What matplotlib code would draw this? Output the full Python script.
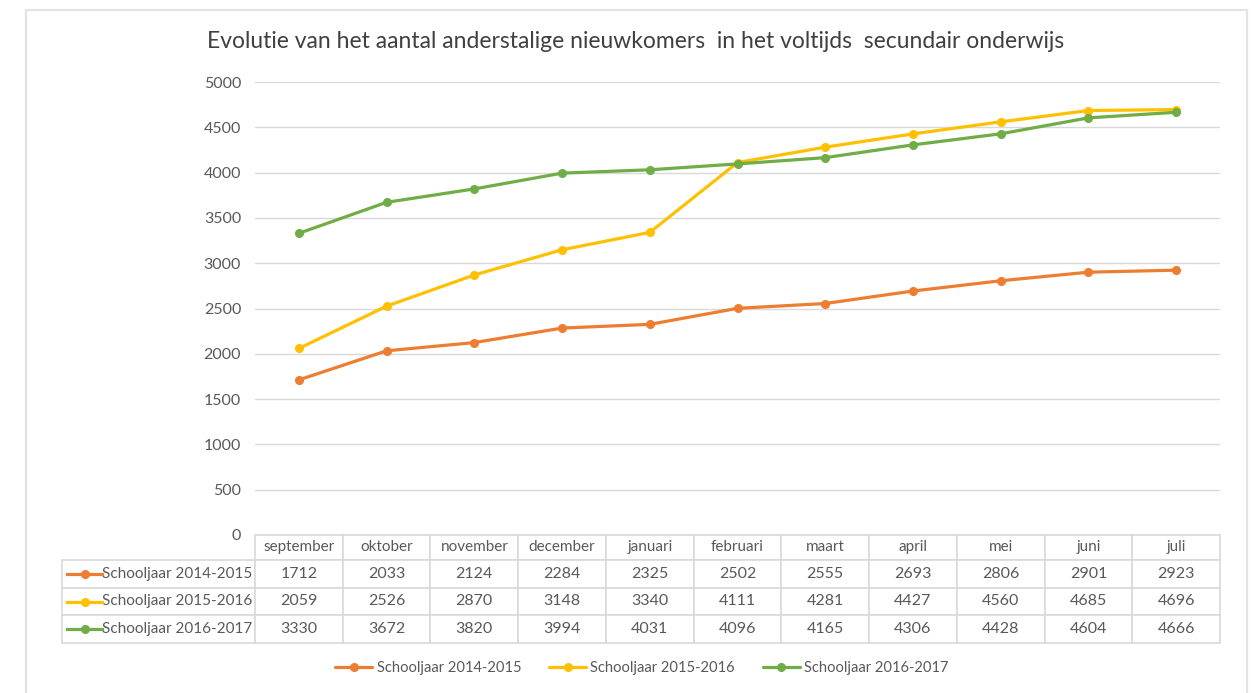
import matplotlib
matplotlib.use("Agg")
import matplotlib.pyplot as plt
from matplotlib.table import Table
from matplotlib.lines import Line2D
from matplotlib.patches import Rectangle

maanden = ["september", "oktober", "november", "december", "januari", "februari",
           "maart", "april", "mei", "juni", "juli"]
reeksen = ["Schooljaar 2014-2015", "Schooljaar 2015-2016", "Schooljaar 2016-2017"]
sj_2014_2015 = [1712, 2033, 2124, 2284, 2325, 2502, 2555, 2693, 2806, 2901, 2923]
sj_2015_2016 = [2059, 2526, 2870, 3148, 3340, 4111, 4281, 4427, 4560, 4685, 4696]
sj_2016_2017 = [3330, 3672, 3820, 3994, 4031, 4096, 4165, 4306, 4428, 4604, 4666]
yticks = [0, 500, 1000, 1500, 2000, 2500, 3000, 3500, 4000, 4500, 5000]
kleuren = ["#ED7D31", "#FFC000", "#70AD47"]

plt.rcParams['font.family'] = ['Lato', 'DejaVu Sans']
grid_kleur = "#D9D9D9"
tekst_kleur = "#595959"

W, H = 1252, 693
fig = plt.figure(figsize=(W / 100, H / 100), dpi=100)

# outer chart frame
fig.patches.append(Rectangle((26 / W, -0.01), (1247 - 26) / W, (H - 10) / H + 0.01,
                             transform=fig.transFigure, fill=False,
                             edgecolor="#E3E3E3", linewidth=1.5))

ax = fig.add_axes([255 / W, (H - 535) / H, (1220 - 255) / W, (535 - 82) / H])

x = list(range(len(maanden)))
for naam, vals, kl in zip(reeksen, [sj_2014_2015, sj_2015_2016, sj_2016_2017], kleuren):
    ax.plot(x, vals, color=kl, linewidth=2.3, marker="o", markersize=5.5,
            label=naam, solid_capstyle="round")

ax.set_xlim(-0.5, len(maanden) - 0.5)
ax.set_ylim(0, 5000)
ax.set_yticks(yticks)
ax.set_xticks([])
ax.grid(axis="y", color=grid_kleur, linewidth=1)
ax.set_axisbelow(True)
for s in ax.spines.values():
    s.set_visible(False)
ax.tick_params(axis="y", length=0, pad=10, labelsize=11.5, labelcolor=tekst_kleur)

fig.suptitle("Evolutie van het aantal anderstalige nieuwkomers  in het voltijds  secundair onderwijs",
             x=636 / W, y=1 - 42 / H, va="center", fontsize=16.5, color="#404040")

# data table under the axis
tab_h = (643 - 535) / (535 - 82)
lab_w = (255 - 62) / (1220 - 255)
tabel = Table(ax, bbox=[0, -tab_h, 1, tab_h])
col_w = 1 / len(maanden)
for j, m in enumerate(maanden):
    c = tabel.add_cell(0, j, width=col_w, height=0.9, text=m, loc="center")
    c.get_text().set_color(tekst_kleur)
    c.get_text().set_fontsize(11)
for i, (naam, vals) in enumerate(zip(reeksen, [sj_2014_2015, sj_2015_2016, sj_2016_2017])):
    c = tabel.add_cell(i + 1, -1, width=lab_w, height=1.0, text=naam, loc="right")
    c.get_text().set_color(tekst_kleur)
    c.get_text().set_fontsize(11)
    c.PAD = 0.015
    for j, v in enumerate(vals):
        c = tabel.add_cell(i + 1, j, width=col_w, height=1.0, text=str(v), loc="center")
        c.get_text().set_color(tekst_kleur)
        c.get_text().set_fontsize(11.5)
for c in tabel.get_celld().values():
    c.set_edgecolor(grid_kleur)
    c.set_linewidth(1.2)
tabel.auto_set_font_size(False)
ax.add_table(tabel)

# legend keys inside the row label cells
ax_h_px = 535 - 82
for i, kl in enumerate(kleuren):
    yc = 560 + 27.7 * i + 13.8
    ya = (535 - yc) / ax_h_px
    x0 = (67 - 255) / 965
    x1 = (102 - 255) / 965
    ax.add_line(Line2D([x0, x1], [ya, ya], transform=ax.transAxes, color=kl,
                       linewidth=2.3, clip_on=False))
    ax.add_line(Line2D([(x0 + x1) / 2], [ya], transform=ax.transAxes, color=kl,
                       marker="o", markersize=5.5, clip_on=False))

fig.legend(loc="center", bbox_to_anchor=(642 / W, 1 - 668 / H), ncol=3, frameon=False,
           fontsize=10.6, labelcolor=tekst_kleur, handlelength=2.5, columnspacing=1.9,
           handletextpad=0.3)

fig.savefig("out.png", dpi=100)
